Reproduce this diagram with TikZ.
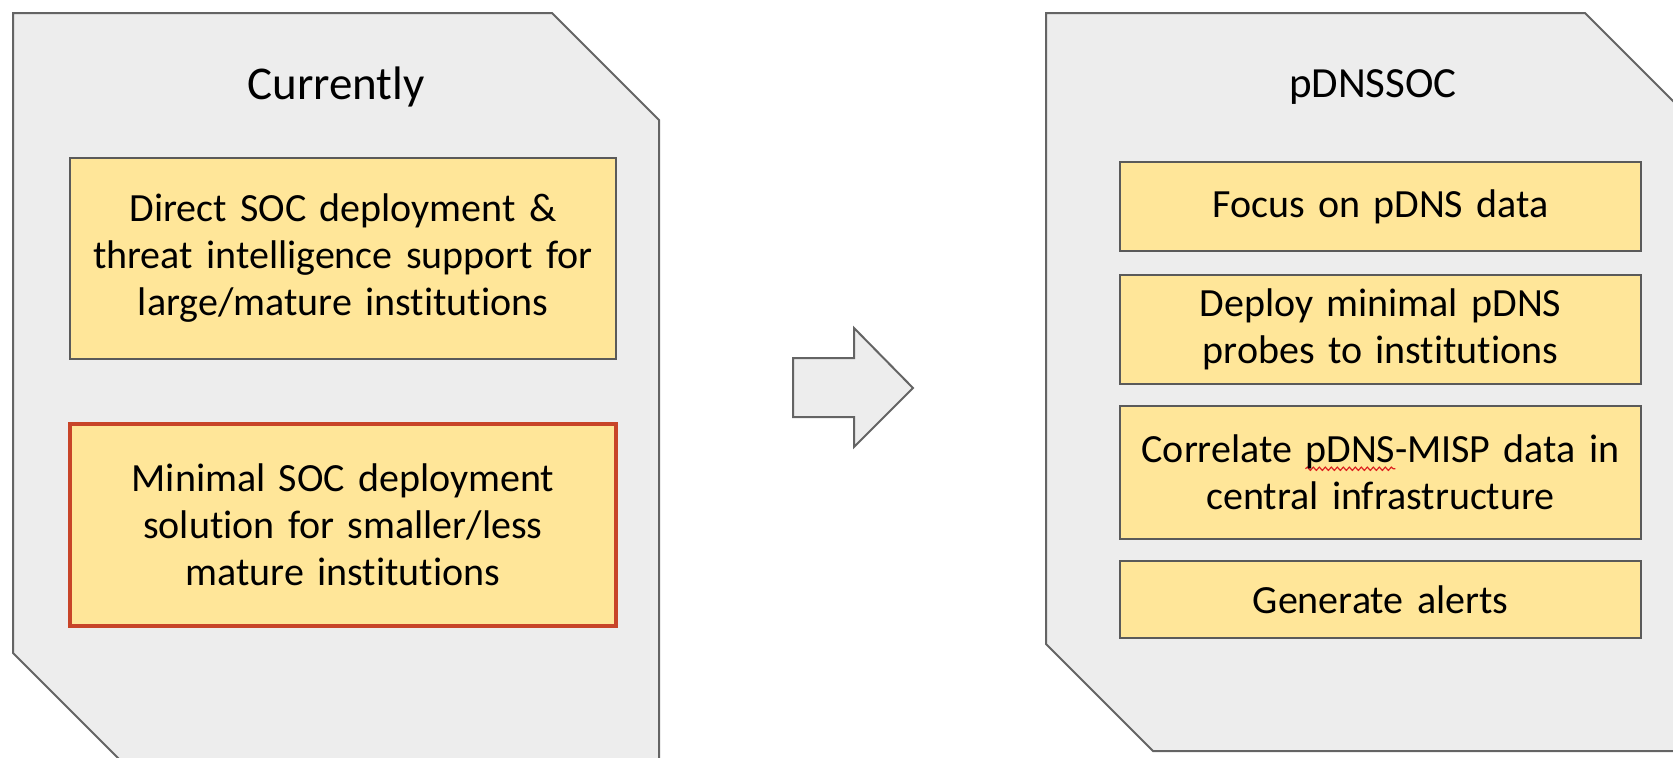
\documentclass[tikz,border=0pt]{standalone}
\usepackage{fontspec}
\setmainfont[Ligatures=NoCommon]{Carlito}
\usetikzlibrary{decorations.pathmorphing}
\definecolor{panelgray}{HTML}{EDEDED}
\definecolor{edgegray}{HTML}{646464}
\definecolor{boxyellow}{HTML}{FFE699}
\definecolor{boxedge}{HTML}{5A5A5A}
\definecolor{focusred}{RGB}{200,68,40}
\definecolor{spellred}{RGB}{220,30,30}
% red spell-check wave under a word
\newlength{\spellwd}
\newcommand{\spellmark}[1]{\settowidth{\spellwd}{#1}\rlap{\tikz[overlay]
  \draw[spellred, line width=0.6pt, decorate,
    decoration={snake, amplitude=0.8pt, segment length=3pt}]
    (0pt,-3pt) -- (\spellwd,-3pt);}#1}

\begin{document}
\begin{tikzpicture}[x=0.5pt, y=-0.5pt,
    every node/.style = {align=center, inner sep=0pt},
    panel/.style={fill=panelgray, draw=edgegray, line width=1pt, line join=miter},
    title/.style={font=\fontsize{23.5}{28}\selectfont},
    item/.style={rectangle, draw=boxedge, line width=0.75pt, fill=boxyellow,
      text width=255pt, font=\fontsize{20}{23.5}\selectfont},
    item_left/.style={item, minimum width=273pt},
    item_right/.style={item, minimum width=260.5pt},
    item_focus/.style={draw=focusred, line width=2.4pt},
    ]
    \useasboundingbox (0,0) rectangle (1673,757);
    \clip (0,0) rectangle (1673,757);

    % two panels with snipped corners
    \draw[panel] (13,13) -- (552,13) -- (659,120) -- (659,760) -- (120,760)
      -- (13,653) -- cycle;
    \draw[panel] (1046,13) -- (1585,13) -- (1692,120) -- (1692,751) -- (1153,751)
      -- (1046,644) -- cycle;

    % arrow between them
    \draw[panel] (793,358) -- (854,358) -- (854,328) -- (913,388) -- (854,447)
      -- (854,417) -- (793,417) -- cycle;

    \node [title] (now) at (336,87) {Currently};
    \node [title, font=\fontsize{21.5}{26}\selectfont] (pdnssoc) at (1373,87) {pDNSSOC};

    \node [item_left, minimum height=100.5pt] (direct) at (343,258.5)
      {Direct SOC deployment \&\\threat intelligence support for\\large/mature institutions};
    \node [item_left, item_focus, minimum height=101pt] (minimal) at (343,525)
      {Minimal SOC deployment\\solution for smaller/less\\mature institutions};

    \node [item_right, minimum height=44.5pt] (focus) at (1380.5,206.5)
      {Focus on pDNS data};
    \node [item_right, minimum height=54.5pt] (probes) at (1380.5,329.5)
      {Deploy minimal pDNS\\probes to institutions};
    \node [item_right, minimum height=66.5pt] (correlate) at (1380.5,472.5)
      {Correlate \spellmark{pDNS}-MISP data in\\central infrastructure};
    \node [item_right, minimum height=38.5pt] (alerts) at (1380.5,599.5)
      {Generate alerts};

\end{tikzpicture}
\end{document}
